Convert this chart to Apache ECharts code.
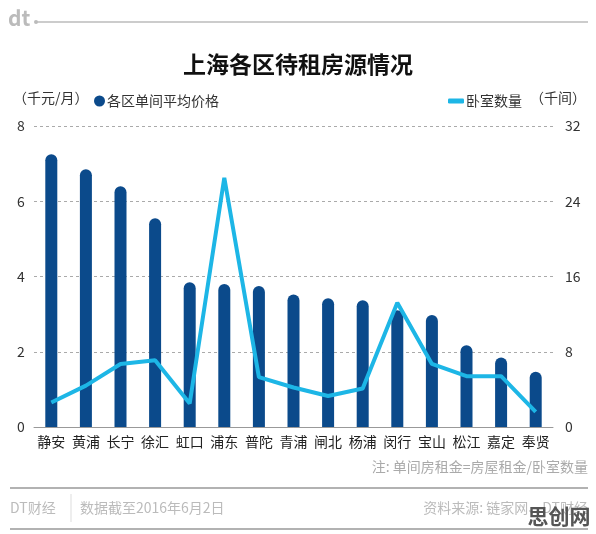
<!DOCTYPE html>
<html>
<head>
<meta charset="utf-8">
<script src="https://cdn.jsdelivr.net/npm/echarts@6/dist/echarts.min.js"></script>
<style>
  html, body { margin: 0; padding: 0; background: #fff; }
  #chart { width: 596px; height: 534px; }
</style>
</head>
<body>
<div id="chart"></div>
<script>
  // 区名
  var districts = ['静安', '黄浦', '长宁', '徐汇', '虹口', '浦东', '普陀', '青浦', '闸北', '杨浦', '闵行', '宝山', '松江', '嘉定', '奉贤'];
  // 各区单间平均价格 (千元/月)
  var avgPrice = [7.25, 6.85, 6.4, 5.55, 3.85, 3.8, 3.75, 3.52, 3.42, 3.37, 3.1, 2.98, 2.17, 1.85, 1.47];
  // 卧室数量 (千间)
  var rooms = [2.6, 4.4, 6.7, 7.1, 2.5, 26.5, 5.3, 4.2, 3.3, 4.1, 13.2, 6.7, 5.4, 5.4, 1.6];
  var leftTicks = [0, 8, 2];   // min, max, interval
  var rightTicks = [0, 32, 8];

  var font = '"Noto Sans CJK SC", "Noto Sans", sans-serif';
  var barColor = '#0b4a8b';
  var lineColor = '#1db6e6';

  var chart = echarts.init(document.getElementById('chart'));
  var option = {
    backgroundColor: '#fff',
    textStyle: { fontFamily: font },
    animation: false,
    title: {
      text: '上海各区待租房源情况',
      left: 'center',
      top: 48,
      textStyle: { fontSize: 23, fontWeight: 'bold', color: '#111', fontFamily: font }
    },
    legend: [{
      data: ['各区单间平均价格'],
      left: 89,
      top: 89,
      icon: 'circle',
      itemWidth: 11,
      itemHeight: 11,
      itemGap: 2,
      textStyle: { fontSize: 14, color: '#333', padding: [0, 0, 0, -3] }
    }, {
      data: ['卧室数量'],
      left: 443,
      top: 89,
      icon: 'roundRect',
      itemWidth: 16,
      itemHeight: 5,
      textStyle: { fontSize: 14, color: '#333', padding: [0, 0, 0, -3] }
    }],
    grid: { left: 34, right: 43, top: 126, bottom: 107, containLabel: false },
    xAxis: {
      type: 'category',
      data: districts,
      axisTick: { show: false },
      axisLine: { lineStyle: { color: '#999', width: 1 } },
      axisLabel: { fontSize: 14, color: '#222', margin: 8, interval: 0 }
    },
    yAxis: [{
      type: 'value',
      min: leftTicks[0], max: leftTicks[1], interval: leftTicks[2],
      axisLine: { show: false },
      axisTick: { show: false },
      axisLabel: { fontSize: 14, color: '#333', margin: 13, align: 'center' },
      splitLine: { lineStyle: { color: '#aaa', type: [3, 3] } }
    }, {
      type: 'value',
      min: rightTicks[0], max: rightTicks[1], interval: rightTicks[2],
      axisLine: { show: false },
      axisTick: { show: false },
      axisLabel: { fontSize: 14, color: '#333', margin: 12 },
      splitLine: { show: false }
    }],
    series: [{
      name: '各区单间平均价格',
      type: 'bar',
      data: avgPrice,
      barWidth: 12,
      itemStyle: { color: barColor, borderRadius: [6, 6, 0, 0] }
    }, {
      name: '卧室数量',
      type: 'line',
      yAxisIndex: 1,
      data: rooms,
      symbol: 'none',
      lineStyle: { color: lineColor, width: 4 },
      itemStyle: { color: lineColor }
    }],
    graphic: [
      // 顶部 logo 和横线
      { type: 'text', left: 8, top: 8, style: { text: 'dt', font: 'bold 21px ' + font, fill: '#bbb' } },
      { type: 'circle', shape: { cx: 36, cy: 22, r: 2 }, style: { fill: '#bbb' } },
      { type: 'line', shape: { x1: 36, y1: 22, x2: 588, y2: 22 }, style: { stroke: '#bbb', lineWidth: 1.5 } },
      // 单位
      { type: 'text', x: 13, y: 98, style: { text: '（千元/月）', font: '14px ' + font, fill: '#333', textVerticalAlign: 'middle' } },
      { type: 'text', x: 530, y: 98, style: { text: '（千间）', font: '14px ' + font, fill: '#333', textVerticalAlign: 'middle' } },
      // 注释
      { type: 'text', x: 588, y: 467, style: { text: '注: 单间房租金=房屋租金/卧室数量', font: '14px ' + font, fill: '#aaa', textAlign: 'right', textVerticalAlign: 'middle' } },
      { type: 'line', shape: { x1: 10, y1: 488, x2: 588, y2: 488 }, style: { stroke: '#999', lineWidth: 1.5 } },
      // 页脚
      { type: 'text', x: 10, y: 508, style: { text: 'DT财经', font: '14px ' + font, fill: '#bbb', textVerticalAlign: 'middle' } },
      { type: 'line', shape: { x1: 71, y1: 494, x2: 71, y2: 522 }, style: { stroke: '#ddd', lineWidth: 1 } },
      { type: 'text', x: 80, y: 508, style: { text: '数据截至2016年6月2日', font: '14px ' + font, fill: '#bbb', textVerticalAlign: 'middle' } },
      { type: 'text', x: 588, y: 508, style: { text: '资料来源: 链家网、DT财经', font: '14px ' + font, fill: '#bbb', textAlign: 'right', textVerticalAlign: 'middle' } },
      { type: 'line', shape: { x1: 10, y1: 529, x2: 588, y2: 529 }, style: { stroke: '#999', lineWidth: 1.5 } },
      // 水印
      { type: 'text', x: 559, y: 516, z: 100, style: { text: '思创网', font: 'bold 21px ' + font, fill: '#555', textAlign: 'center', textVerticalAlign: 'middle' } }
    ]
  };
  chart.setOption(option);
</script>
</body>
</html>
